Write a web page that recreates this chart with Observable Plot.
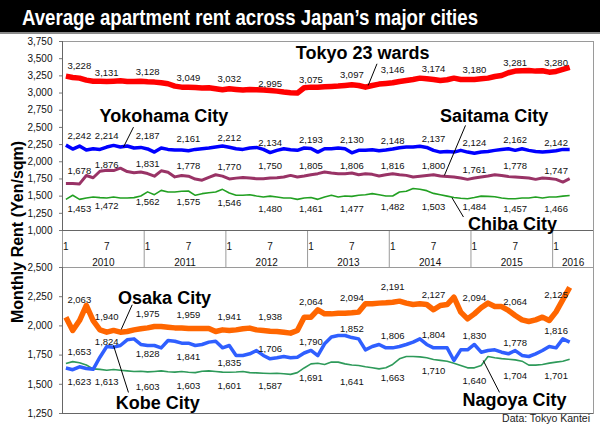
<!DOCTYPE html>
<html>
<head>
<meta charset="utf-8">
<script src="https://cdn.jsdelivr.net/npm/d3@7"></script>
<script src="https://cdn.jsdelivr.net/npm/@observablehq/plot@0.6"></script>
<style>
  html,body{margin:0;padding:0;background:#fff;}
  #chart{position:relative;width:600px;height:428px;overflow:hidden;font-family:"Liberation Sans",Arial,Helvetica,sans-serif;}
  #title{position:absolute;left:0;top:0;width:600px;height:32px;background:#000;border-bottom:2px solid #8a8a8a;}
  #title span{position:absolute;left:22px;top:5px;color:#fff;font-weight:bold;font-size:22px;line-height:26px;white-space:nowrap;transform-origin:0 50%;}
  #ytitle{position:absolute;left:18px;top:232px;transform:translate(-50%,-50%) rotate(-90deg);font-weight:bold;font-size:16px;white-space:nowrap;color:#000;}
  #caption{position:absolute;right:10px;top:412px;font-size:10.5px;line-height:12px;color:#222;}
</style>
</head>
<body>
<div id="chart">
  <div id="title"><span id="titletext">Average apartment rent across Japan’s major cities</span></div>
  <div id="ytitle">Monthly Rent (Yen/sqm)</div>
  <div id="caption">Data: Tokyo Kantei</div>
</div>
<script>
// ---------- DATA ----------
// Monthly values, Jan 2010 .. Mar 2016 (75 months)
const tokyo = [3246,3227,3217,3188,3173,3173,3169,3173,3178,3169,3169,3173,
  3164,3159,3149,3135,3101,3086,3086,3081,3072,3077,3062,3047,
  3062,3052,3043,3052,3047,3043,3038,3028,3014,3004,2999,3077,
  3086,3086,3091,3096,3101,3110,3120,3110,3086,3110,3130,3140,
  3149,3169,3183,3198,3217,3207,3198,3183,3193,3217,3198,3198,
  3198,3207,3217,3241,3256,3295,3319,3324,3328,3319,3324,3304,
  3314,3343,3372];
const yokohama = [2242,2185,2229,2170,2190,2180,2214,2238,2214,2229,2200,2209,
  2187,2141,2200,2180,2171,2171,2161,2180,2190,2200,2214,2229,
  2212,2190,2180,2200,2209,2180,2134,2166,2190,2175,2166,2200,
  2193,2141,2190,2190,2200,2190,2130,2166,2166,2175,2161,2171,
  2185,2205,2214,2214,2225,2209,2166,2141,2151,2141,2166,2141,
  2124,2141,2151,2166,2180,2190,2166,2190,2166,2151,2141,2151,
  2160,2180,2180];
const saitama = [1685,1685,1678,1800,1767,1862,1876,1872,1907,1858,1840,1850,
  1829,1790,1868,1848,1780,1801,1790,1748,1732,1774,1811,1791,
  1750,1762,1772,1764,1754,1754,1764,1768,1778,1802,1778,1793,
  1812,1827,1851,1836,1827,1827,1836,1812,1827,1817,1793,1812,
  1827,1812,1802,1778,1790,1800,1812,1793,1785,1778,1764,1744,
  1764,1778,1793,1812,1800,1785,1778,1770,1764,1744,1764,1755,
  1744,1705,1754];
const chiba = [1453,1512,1453,1473,1487,1478,1472,1487,1473,1473,1478,1502,
  1562,1521,1584,1560,1560,1570,1575,1512,1536,1550,1560,1599,
  1546,1512,1512,1520,1502,1487,1500,1487,1473,1473,1453,1473,
  1481,1453,1487,1512,1487,1502,1497,1512,1521,1536,1521,1502,
  1502,1560,1570,1610,1600,1580,1540,1520,1500,1480,1470,1463,
  1480,1500,1497,1492,1473,1463,1463,1473,1473,1487,1473,1487,
  1487,1500,1510];
const osaka = [2075,1961,2046,2175,2046,1966,1946,1961,1946,1952,1966,1975,
  1983,1995,1995,1989,1983,1983,1978,1978,1978,1978,1952,1966,
  1961,1966,1975,1981,1966,1961,1955,1952,1946,1938,1961,2075,
  2075,2138,2103,2103,2109,2109,2112,2118,2189,2189,2195,2198,
  2203,2212,2195,2183,2189,2183,2138,2175,2183,2246,2118,2060,
  2103,2155,2195,2166,2166,2132,2089,2052,2038,2052,2075,2046,
  2120,2225,2330];
const kobe = [1640,1625,1650,1635,1628,1732,1824,1818,1832,1881,1889,1841,
  1832,1832,1812,1875,1869,1852,1852,1832,1841,1861,1869,1812,
  1832,1747,1747,1761,1789,1747,1718,1727,1738,1727,1732,1768,
  1790,1745,1847,1905,1918,1918,1900,1889,1795,1824,1841,1812,
  1812,1824,1841,1861,1889,1841,1812,1812,1812,1704,1795,1795,
  1841,1775,1789,1795,1775,1761,1789,1747,1738,1761,1789,1824,
  1812,1889,1861];
const nagoya = [1678,1694,1685,1665,1632,1628,1620,1627,1620,1615,1610,1612,
  1606,1610,1615,1608,1604,1610,1603,1600,1612,1615,1610,1604,
  1603,1605,1610,1600,1598,1595,1592,1595,1590,1585,1600,1640,
  1675,1680,1670,1690,1690,1675,1665,1661,1650,1641,1632,1641,
  1670,1718,1738,1738,1735,1727,1712,1705,1698,1681,1661,1641,
  1641,1661,1738,1727,1720,1715,1709,1698,1664,1664,1670,1681,
  1690,1698,1715];

// Data labels shown every January and July
const tokyoLabels    = [3228,3131,3128,3049,3032,2995,3075,3097,3146,3174,3180,3281,3280];
const yokohamaLabels = [2242,2214,2187,2161,2212,2134,2193,2130,2148,2137,2124,2162,2142];
const saitamaLabels  = [1678,1876,1831,1778,1770,1750,1805,1806,1816,1800,1761,1778,1747];
const chibaLabels    = [1453,1472,1562,1575,1546,1480,1461,1477,1482,1503,1484,1457,1466];
const osakaLabels    = [2063,1940,1975,1959,1941,1938,2064,2094,2191,2127,2094,2064,2125];
const kobeLabels     = [1653,1824,1828,1841,1835,1706,1790,1852,1806,1804,1830,1778,1816];
const nagoyaLabels   = [1623,1613,1603,1603,1601,1587,1691,1641,1663,1710,1640,1704,1701];

// Axis categories
const years = ["2010","2011","2012","2013","2014","2015","2016"];
const monthTickLabels = ["1","7"];
const axisMonthCount = 78; // Jan 2010 .. Jun 2016
const topTicks = d3.range(1000, 3751, 250);
const bottomTicks = d3.range(1250, 2501, 250);

// Series names and their callout lines (month index, value)
const topNames = [
  {name:"Tokyo 23 wards", m:43.6, v:3576},
  {name:"Yokohama City",  m:14.4, v:2667},
  {name:"Saitama City",   m:62.9, v:2667},
  {name:"Chiba City",     m:65.6, v:1095}
];
const topCallouts = [
  {m1:45.7, v1:3426, m2:44.4, v2:3110},
  {m1:9.93, v1:2504, m2:8.46, v2:2214},
  {m1:58.7, v1:2529, m2:55.6, v2:1802},
  {m1:58.4, v1:1196, m2:56.7, v2:1478}
];
const bottomNames = [
  {name:"Osaka City",  m:14.5, v:2239},
  {name:"Kobe City",   m:13.5, v:1335},
  {name:"Nagoya City", m:65.9, v:1365}
];
const bottomCallouts = [
  {m1:9.74, v1:2181, m2:8.12, v2:1969},
  {m1:9.19, v1:1430, m2:6.99, v2:1832},
  {m1:63.7, v1:1430, m2:61.3, v2:1704}
];

// ---------- LAYOUT (label pixel nudges) ----------
const nudge = {
  tokyo:    [-11,-11,-12,-12,-12,-9.6,-8,-11,-12.6,-12.3,-11,-11,-11],
  yokohama: [-8.7,-10.7,-12.5,-12,-9.5,-9.5,-8.8,-13,-11,-13.7,-10.2,-10.2,-9],
  saitama:  [-13,-5,-9,-10.7,-11,-12.6,-9,-9,-8.3,-9.5,-7.8,-10.7,-8.2],
  chiba:    [9.3,8,10,11,10,11,10,11,9.7,11,9.8,9.5,10],
  osaka:    [-19,-15.7,-15,-16,-16,-16,-16,-16.7,-16.4,-16.3,-16.7,-16,-16.5],
  kobe:     [-14,-5,8,12,17.6,-11,-8,-14,-13,-14,-10,-9,-16],
  nagoya:   [12,11,15,14,13,12,16,14,13,11,12.6,15.7,15.4]
};

// ---------- CHART ----------
const fmt = d3.format(",");
const N = tokyo.length;
const labelMonths = d3.range(0, N, 6);
const xDomain = [-0.5, axisMonthCount - 0.5];
const FONT = '"Liberation Sans", Arial, Helvetica, sans-serif';

const common = {
  width: 600, marginLeft: 62, marginRight: 7,
  x: {domain: xDomain, axis: null},
  style: {fontFamily: FONT, fontSize: "10px", background: "transparent", overflow: "visible", color: "#111"}
};

function lineMark(values, color, width) {
  return Plot.line(values, {x: (d, i) => i, y: d => d, stroke: color, strokeWidth: width,
    strokeLinejoin: "round", strokeLinecap: "butt"});
}
function labelMarks(values, nudges) {
  return values.map((v, k) => Plot.text([v], {
    x: [labelMonths[k]], y: [v], text: [fmt(v)],
    dy: nudges[k], dx: k === 0 ? 1.5 : 0,
    textAnchor: k === 0 ? "start" : "middle",
    fontSize: 9.5, fill: "#111"
  }));
}
function nameMarks(names) {
  return names.map(n => Plot.text([n], {x: "m", y: "v", text: "name",
    fontWeight: "bold", fontSize: 18, fill: "#000"}));
}
function calloutMark(c) {
  return Plot.link(c, {x1: "m1", y1: "v1", x2: "m2", y2: "v2", stroke: "#000", strokeWidth: 1});
}
function yAxis(ticks) {
  return Plot.axisY({ticks, tickFormat: d => fmt(d), tickSize: 3, tickPadding: 7, label: null,
    stroke: "#777", fill: "#111", fontSize: 10});
}

const topPlot = Plot.plot({
  ...common, height: 206, marginTop: 7, marginBottom: 10,
  y: {domain: [1000, 3750]},
  marks: [
    Plot.frame({stroke: "#9a9a9a"}),
    yAxis(topTicks),
    Plot.ruleX([xDomain[0]], {stroke: "#666"}),
    Plot.ruleY([1000], {stroke: "#666"}),
    lineMark(chiba, "#22a022", 1.6),
    lineMark(saitama, "#993366", 3),
    lineMark(yokohama, "#0000ff", 3.5),
    lineMark(tokyo, "#ff0000", 5.5),
    ...labelMarks(tokyoLabels, nudge.tokyo),
    ...labelMarks(yokohamaLabels, nudge.yokohama),
    ...labelMarks(saitamaLabels, nudge.saitama),
    ...labelMarks(chibaLabels, nudge.chiba),
    calloutMark(topCallouts),
    ...nameMarks(topNames)
  ]
});

const yearStarts = years.map((y, k) => 12 * k - 0.5);
const yearCenters = years.map((y, k) => (12 * k - 0.5 + Math.min(12 * k + 11.5, xDomain[1])) / 2);
const bandPlot = Plot.plot({
  ...common, height: 37, marginTop: 0, marginBottom: 0,
  marks: [
    Plot.ruleX(yearStarts, {stroke: "#9a9a9a"}),
    Plot.ruleX([xDomain[1]], {stroke: "#9a9a9a"}),
    Plot.text(labelMonths, {x: d => d, text: d => monthTickLabels[(d / 6) % 2],
      frameAnchor: "top", dy: 12, fontSize: 10, fill: "#111"}),
    Plot.text(years, {x: (d, i) => yearCenters[i], text: d => d,
      frameAnchor: "top", dy: 28, fontSize: 10, fill: "#111"})
  ]
});

const bottomPlot = Plot.plot({
  ...common, height: 165, marginTop: 9, marginBottom: 10,
  y: {domain: [1250, 2500]},
  marks: [
    Plot.frame({stroke: "#9a9a9a"}),
    yAxis(bottomTicks),
    Plot.ruleX([xDomain[0]], {stroke: "#666"}),
    Plot.ruleY([1250], {stroke: "#666"}),
    lineMark(nagoya, "#2e9a5a", 1.6),
    lineMark(kobe, "#2f5fff", 3.5),
    lineMark(osaka, "#ff6600", 5.5),
    ...labelMarks(osakaLabels, nudge.osaka),
    ...labelMarks(kobeLabels, nudge.kobe),
    ...labelMarks(nagoyaLabels, nudge.nagoya),
    calloutMark(bottomCallouts),
    ...nameMarks(bottomNames)
  ]
});

const chart = document.getElementById("chart");
[[bandPlot, 230], [topPlot, 34], [bottomPlot, 258]].forEach(([el, t]) => {
  el.style.position = "absolute";
  el.style.left = "0px";
  el.style.top = t + "px";
  chart.appendChild(el);
});

// fit title width to the reference bar text
const tt = document.getElementById("titletext");
const w = tt.getBoundingClientRect().width;
tt.style.transform = `scaleX(${456 / w})`;
</script>
</body>
</html>
